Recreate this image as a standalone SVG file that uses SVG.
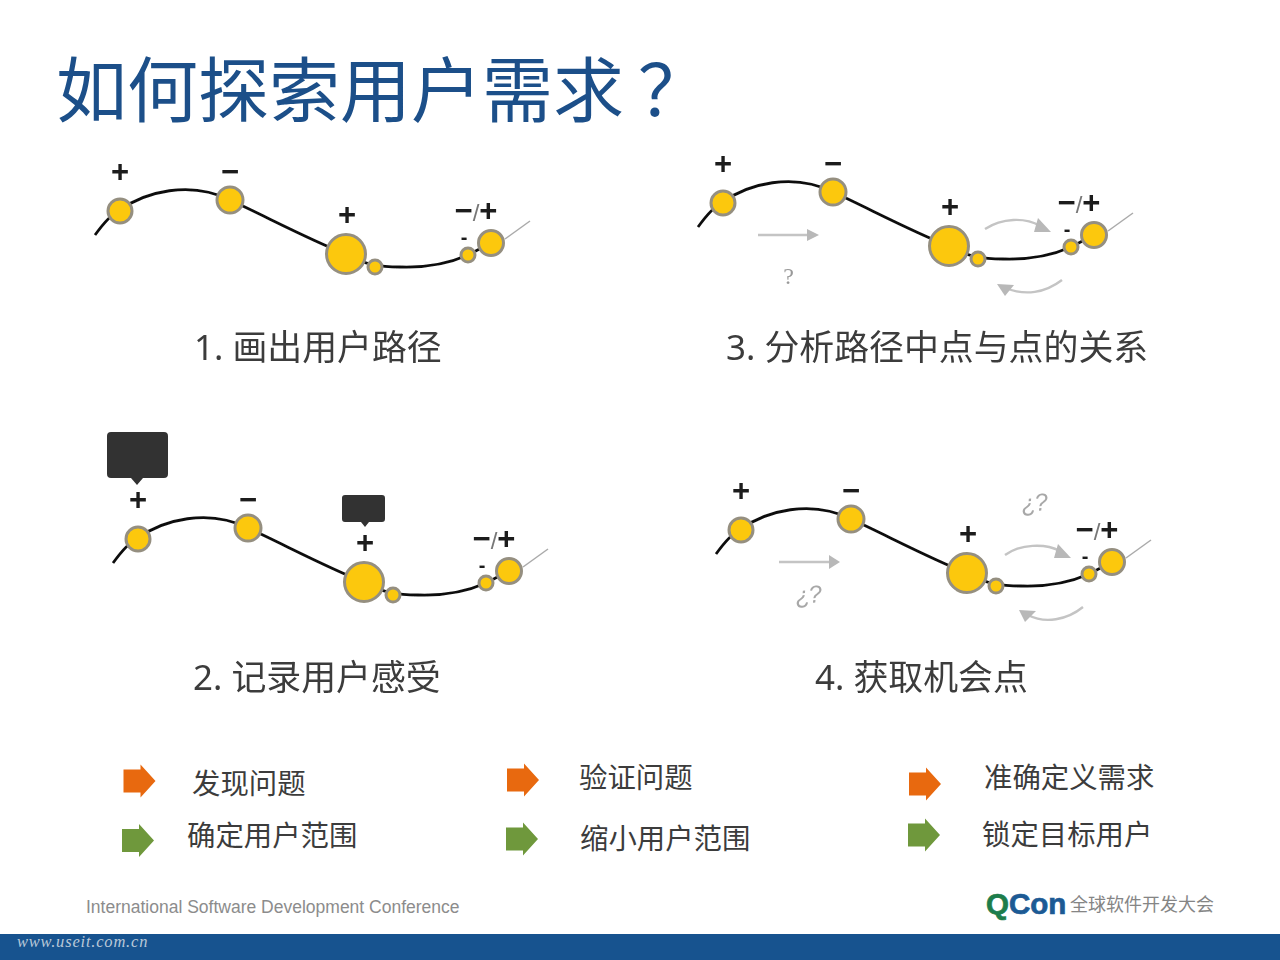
<svg xmlns="http://www.w3.org/2000/svg" width="1280" height="960" viewBox="0 0 1280 960">
<style>
.t{font-family:"Noto Sans","Noto Sans CJK SC",sans-serif;fill:#3c3c3c}
.lab{font-size:34.9px}
.sub{font-size:28.4px}
.s{font-family:"Liberation Sans",sans-serif;font-weight:bold;fill:#1a1a1a;font-size:31px;text-anchor:middle}
.sm{font-size:20px}
.sl{font-weight:normal;fill:#777;font-size:24px}
.curve{fill:none;stroke:#111;stroke-width:2.8}
.tail{fill:none;stroke:#aaa;stroke-width:1.5}
.dot{fill:#fcc80f;stroke:#958f80;stroke-width:3}
.ga{fill:none;stroke:#c4c4c4;stroke-width:2.4}
.gh{fill:#b8b8b8}
.q{font-family:"Liberation Sans",sans-serif;font-style:italic;fill:#a8a8a8;font-size:24px;text-anchor:middle;letter-spacing:-1px}
.bub{fill:#333}
.o{fill:#e8690f}
.g{fill:#6f983c}
</style>
<defs>
<filter id="soft" x="-5%" y="-5%" width="110%" height="110%"><feGaussianBlur stdDeviation="0.6"/></filter>
<path id="ar" d="M0,-11.500H17V-16.500L32,0L17,16.500V11.500H0Z"/>
</defs>
<rect width="1280" height="960" fill="#fff"/>
<rect y="934" width="1280" height="26" fill="#17538f"/>
<text id="title" x="56" y="116" font-family="'Noto Sans CJK SC',sans-serif" font-size="71" fill="#1c4f89">如何探索用户需求<tspan x="638">？</tspan></text>

<g id="connectors" filter="url(#soft)">
<g>
<path class="curve" d="M95,235C103,224 111,214 120,210C145,192 190,180 230,200C265,216 310,240 346,254C365,265 380,267 400,267C430,268 450,263 468,255L491,243"/>
<path class="tail" d="M505,239L530,221"/>
</g>
<g transform="translate(603,-8)">
<path class="curve" d="M95,235C103,224 111,214 120,210C145,192 190,180 230,200C265,216 310,240 346,254C365,265 380,267 400,267C430,268 450,263 468,255L491,243"/>
<path class="tail" d="M505,239L530,221"/>
</g>
<g transform="translate(18,328)">
<path class="curve" d="M95,235C103,224 111,214 120,210C145,192 190,180 230,200C265,216 310,240 346,254C365,265 380,267 400,267C430,268 450,263 468,255L491,243"/>
<path class="tail" d="M505,239L530,221"/>
</g>
<g transform="translate(621,319)">
<path class="curve" d="M95,235C103,224 111,214 120,210C145,192 190,180 230,200C265,216 310,240 346,254C365,265 380,267 400,267C430,268 450,263 468,255L491,243"/>
<path class="tail" d="M505,239L530,221"/>
</g>
<path class="ga" d="M758,235H808"/><path class="gh" d="M807,229L819,235L807,241Z"/>
<path class="ga" d="M985,229C1002,218 1025,217 1040,226"/><path class="gh" d="M1038,218L1051,232L1034,232Z"/>
<path class="ga" d="M1062,280C1045,293 1025,296 1006,288"/><path class="gh" d="M997,284L1014,285L1005,296Z"/>
<path class="ga" d="M779,562H830" stroke-width="1.800"/><path class="gh" d="M829,555L840,562L829,569Z"/>
<path class="ga" d="M1005,555C1020,544 1045,543 1060,551"/><path class="gh" d="M1058,544L1071,558L1054,558Z"/>
<path class="ga" d="M1083,607C1067,620 1045,624 1028,615"/><path class="gh" d="M1019,610L1036,611L1025,622Z"/>
</g>

<g id="panel1" filter="url(#soft)">
<g id="p1n1"><circle class="dot" cx="120" cy="211" r="12"/><text class="s" x="120" y="182">+</text></g>
<g id="p1n2"><circle class="dot" cx="230" cy="200" r="13"/><text class="s" x="230" y="182">−</text></g>
<g id="p1n3"><circle class="dot" cx="346" cy="254" r="19.500"/><text class="s" x="347" y="225">+</text></g>
<g id="p1n4"><circle class="dot" cx="375" cy="267" r="7"/></g>
<g id="p1n5"><circle class="dot" cx="468" cy="255" r="7"/><text class="s sm" x="464" y="244">-</text></g>
<g id="p1n6"><circle class="dot" cx="491" cy="243" r="12.500"/><text class="s" x="476" y="221">−<tspan class="sl">/</tspan>+</text></g>
</g>
<g id="panel3" filter="url(#soft)" transform="translate(603,-8)">
<g id="p3n1"><circle class="dot" cx="120" cy="211" r="12"/><text class="s" x="120" y="182">+</text></g>
<g id="p3n2"><circle class="dot" cx="230" cy="200" r="13"/><text class="s" x="230" y="182">−</text></g>
<g id="p3n3"><circle class="dot" cx="346" cy="254" r="19.500"/><text class="s" x="347" y="225">+</text></g>
<g id="p3n4"><circle class="dot" cx="375" cy="267" r="7"/></g>
<g id="p3n5"><circle class="dot" cx="468" cy="255" r="7"/><text class="s sm" x="464" y="244">-</text></g>
<g id="p3n6"><circle class="dot" cx="491" cy="243" r="12.500"/><text class="s" x="476" y="221">−<tspan class="sl">/</tspan>+</text></g>
</g>
<g id="panel2" filter="url(#soft)" transform="translate(18,328)">
<g id="p2n1"><circle class="dot" cx="120" cy="211" r="12"/><text class="s" x="120" y="182">+</text></g>
<g id="p2n2"><circle class="dot" cx="230" cy="200" r="13"/><text class="s" x="230" y="182">−</text></g>
<g id="p2n3"><circle class="dot" cx="346" cy="254" r="19.500"/><text class="s" x="347" y="225">+</text></g>
<g id="p2n4"><circle class="dot" cx="375" cy="267" r="7"/></g>
<g id="p2n5"><circle class="dot" cx="468" cy="255" r="7"/><text class="s sm" x="464" y="244">-</text></g>
<g id="p2n6"><circle class="dot" cx="491" cy="243" r="12.500"/><text class="s" x="476" y="221">−<tspan class="sl">/</tspan>+</text></g>
</g>
<g id="panel4" filter="url(#soft)" transform="translate(621,319)">
<g id="p4n1"><circle class="dot" cx="120" cy="211" r="12"/><text class="s" x="120" y="182">+</text></g>
<g id="p4n2"><circle class="dot" cx="230" cy="200" r="13"/><text class="s" x="230" y="182">−</text></g>
<g id="p4n3"><circle class="dot" cx="346" cy="254" r="19.500"/><text class="s" x="347" y="225">+</text></g>
<g id="p4n4"><circle class="dot" cx="375" cy="267" r="7"/></g>
<g id="p4n5"><circle class="dot" cx="468" cy="255" r="7"/><text class="s sm" x="464" y="244">-</text></g>
<g id="p4n6"><circle class="dot" cx="491" cy="243" r="12.500"/><text class="s" x="476" y="221">−<tspan class="sl">/</tspan>+</text></g>
</g>

<g id="bubble1" filter="url(#soft)"><path class="bub" d="M111,432H164Q168,432 168,436V474Q168,478 164,478H143L137,485L131,478H111Q107,478 107,474V436Q107,432 111,432Z"/></g>
<g id="bubble2" filter="url(#soft)"><path class="bub" d="M345,495H382Q385,495 385,498V519Q385,522 382,522H369L365,527L361,522H345Q342,522 342,519V498Q342,495 345,495Z"/></g>

<text class="q" x="788" y="284" style="font-size:24px;font-style:normal;font-family:'Liberation Serif',serif;fill:#999">?</text>
<text class="q" x="808" y="603" transform="rotate(-6 808 595)">¿?</text>
<text class="q" x="1034" y="511" transform="rotate(-6 1034 503)">¿?</text>

<text class="t lab" x="194" y="360">1. 画出用户路径</text>
<text class="t lab" x="726" y="360">3. 分析路径中点与点的关系</text>
<text class="t lab" x="193" y="690">2. 记录用户感受</text>
<text class="t lab" x="815" y="690">4. 获取机会点</text>

<g id="a1"><use href="#ar" class="o" x="123.500" y="781"/><text class="t sub" x="192" y="794">发现问题</text></g>
<g id="a2"><use href="#ar" class="g" x="122" y="840.500"/><text class="t sub" x="187" y="846">确定用户范围</text></g>
<g id="a3"><use href="#ar" class="o" x="507" y="780"/><text class="t sub" x="579" y="788">验证问题</text></g>
<g id="a4"><use href="#ar" class="g" x="506" y="839"/><text class="t sub" x="580" y="849">缩小用户范围</text></g>
<g id="a5"><use href="#ar" class="o" x="909" y="784"/><text class="t sub" x="984" y="788">准确定义需求</text></g>
<g id="a6"><use href="#ar" class="g" x="908" y="835"/><text class="t sub" x="982" y="845">锁定目标用户</text></g>

<text x="86" y="913" font-family="'Liberation Sans',sans-serif" font-size="17.500" fill="#8c8c8c">International Software Development Conference</text>
<text x="986" y="914" font-family="'Liberation Sans',sans-serif" font-weight="bold" font-size="29.500" stroke-width="0.700"><tspan fill="#1d7d4b" stroke="#1d7d4b">Q</tspan><tspan fill="#1c5a94" stroke="#1c5a94">Con</tspan></text>
<text x="1070" y="911" font-family="'Noto Sans CJK SC',sans-serif" font-size="18" fill="#858585">全球软件开发大会</text>
<text x="17" y="947" font-family="'Liberation Serif',serif" font-style="italic" font-size="16.500" letter-spacing="0.800" fill="#b9c8d8">www.useit.com.cn</text>
</svg>
